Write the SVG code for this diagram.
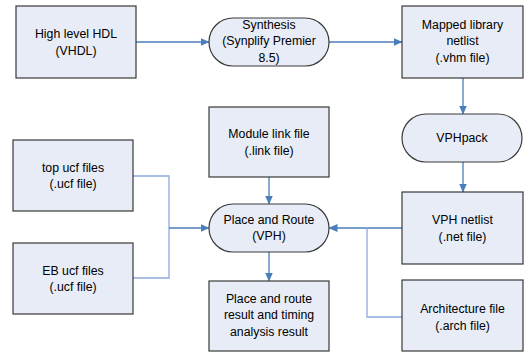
<svg xmlns="http://www.w3.org/2000/svg" width="528" height="353" viewBox="0 0 528 353">
<defs>
<marker id="ah" markerWidth="9" markerHeight="8" refX="8.5" refY="4" orient="auto" markerUnits="userSpaceOnUse">
<path d="M0,0 L9,4 L0,8 Z" fill="#4A7EBB"/>
</marker>
</defs>
<style>
.box{fill:#E7ECF6;stroke:#3A3A3A;stroke-width:1.2}
text{font-family:"Liberation Sans",Arial,sans-serif;font-size:12.3px;fill:#000;text-anchor:middle}
.a{fill:none;stroke:#4A7EBB;stroke-width:1.3}
.l{fill:none;stroke:#8EAADB;stroke-width:1.3}
</style>
<rect width="528" height="353" fill="#fff"/>
<g id="connectors">
<line class="a" x1="136" y1="42" x2="209" y2="42" marker-end="url(#ah)"/>
<line class="a" x1="329" y1="42" x2="402" y2="42" marker-end="url(#ah)"/>
<line class="a" x1="463" y1="78" x2="463" y2="114" marker-end="url(#ah)"/>
<line class="a" x1="463" y1="162" x2="463" y2="192" marker-end="url(#ah)"/>
<line class="a" x1="269" y1="177" x2="269" y2="204" marker-end="url(#ah)"/>
<line class="a" x1="269" y1="252" x2="269" y2="281" marker-end="url(#ah)"/>
<polyline class="l" points="133,176 169,176 169,278 133,278"/>
<line class="a" x1="169" y1="228" x2="209" y2="228" marker-end="url(#ah)"/>
<line class="a" x1="402" y1="228" x2="329" y2="228" marker-end="url(#ah)"/>
<polyline class="l" points="402,317 367,317 367,228"/>
</g>
<g id="hdl"><rect class="box" x="16" y="6" width="120" height="72"/><text x="76" y="38">High level HDL</text><text x="76" y="54.5">(VHDL)</text></g>
<g id="synthesis"><rect class="box" x="209" y="18" width="120" height="48" rx="24"/><text x="269" y="28.5">Synthesis</text><text x="269" y="45">(Synplify Premier</text><text x="269" y="61.5">8.5)</text></g>
<g id="mapped"><rect class="box" x="402" y="6" width="121" height="72"/><text x="462.5" y="28.5">Mapped library</text><text x="462.5" y="45">netlist</text><text x="462.5" y="61.5">(.vhm file)</text></g>
<g id="vphpack"><rect class="box" x="402" y="114" width="120" height="48" rx="24"/><text x="462" y="142">VPHpack</text></g>
<g id="module"><rect class="box" x="209" y="107" width="120" height="70"/><text x="269" y="138">Module link file</text><text x="269" y="154.5">(.link file)</text></g>
<g id="topucf"><rect class="box" x="13" y="140" width="120" height="71"/><text x="73" y="171.5">top ucf files</text><text x="73" y="188">(.ucf file)</text></g>
<g id="par"><rect class="box" x="209" y="204" width="120" height="48" rx="24"/><text x="269" y="223.5">Place and Route</text><text x="269" y="240">(VPH)</text></g>
<g id="vphnet"><rect class="box" x="402" y="192" width="121" height="72"/><text x="462.5" y="224">VPH netlist</text><text x="462.5" y="240.5">(.net file)</text></g>
<g id="ebucf"><rect class="box" x="13" y="243" width="120" height="71"/><text x="73" y="274.5">EB ucf files</text><text x="73" y="291">(.ucf file)</text></g>
<g id="result"><rect class="box" x="209" y="281" width="120" height="70"/><text x="269" y="302.5">Place and route</text><text x="269" y="319">result and timing</text><text x="269" y="335.5">analysis result</text></g>
<g id="arch"><rect class="box" x="402" y="280" width="121" height="71"/><text x="462.5" y="313">Architecture file</text><text x="462.5" y="329.5">(.arch file)</text></g>
</svg>
